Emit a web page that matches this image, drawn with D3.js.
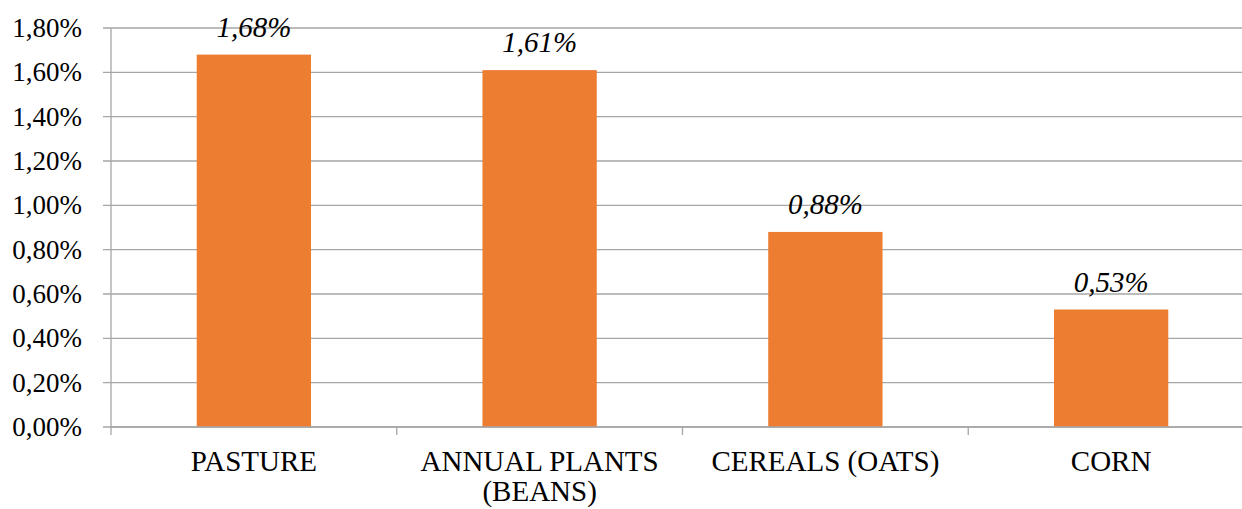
<!DOCTYPE html>
<html>
<head>
<meta charset="utf-8">
<script src="https://cdn.jsdelivr.net/npm/d3@7"></script>
<style>
html,body{margin:0;padding:0;background:#fff;overflow:hidden;}
svg{display:block;}
</style>
</head>
<body>
<svg id="chart" width="1242" height="509" font-family="'Liberation Serif', 'Times New Roman', Times, Tinos, 'Noto Serif', 'Nimbus Roman', 'FreeSerif', 'DejaVu Serif', serif"></svg>
<script>
const categories = [["PASTURE"], ["ANNUAL PLANTS", "(BEANS)"], ["CEREALS (OATS)"], ["CORN"]];
const values = [1.68, 1.61, 0.88, 0.53];
const yTicks = [0, 0.2, 0.4, 0.6, 0.8, 1.0, 1.2, 1.4, 1.6, 1.8];

(function () {
const fmt = v => v.toFixed(2).replace('.', ',') + '%';
const svg = d3.select('#chart');
const pLeft = 111, pRight = 1254, pTop = 28, pBottom = 427;
const keys = categories.map(c => c.join(' '));

const x = d3.scaleBand().domain(keys).range([pLeft, pRight]).padding(0);
const y = d3.scaleLinear().domain([0, 1.8]).range([pBottom, pTop]);
const gridColor = '#a6a6a6';

// gridlines
svg.append('g').selectAll('line').data(yTicks).join('line')
  .attr('x1', pLeft - 8).attr('x2', pRight)
  .attr('y1', d => y(d)).attr('y2', d => y(d))
  .attr('stroke', gridColor).attr('stroke-width', 1.3);

// y axis line
svg.append('line').attr('x1', pLeft).attr('x2', pLeft).attr('y1', y(1.8)).attr('y2', y(0))
  .attr('stroke', gridColor).attr('stroke-width', 1.3);

// y tick labels
svg.append('g').selectAll('text').data(yTicks).join('text')
  .attr('x', pLeft - 29).attr('y', d => y(d) + 9)
  .attr('text-anchor', 'end')
  .attr('font-size', 27).attr('fill', '#000').text(fmt);

// bars
const bw = x.bandwidth();
svg.append('g').selectAll('rect').data(values).join('rect')
  .attr('x', (d, i) => x(keys[i]) + bw * 0.3)
  .attr('width', bw * 0.4)
  .attr('y', d => y(d))
  .attr('height', d => y(0) - y(d))
  .attr('fill', '#ED7D31');

// x axis line and ticks
svg.append('line').attr('x1', pLeft).attr('x2', pRight).attr('y1', y(0)).attr('y2', y(0))
  .attr('stroke', gridColor).attr('stroke-width', 1.3);
const bounds = keys.map(k => x(k)).concat([x(keys[keys.length - 1]) + bw]);
svg.append('g').selectAll('line').data(bounds).join('line')
  .attr('x1', d => d).attr('x2', d => d).attr('y1', y(0)).attr('y2', y(0) + 8)
  .attr('stroke', gridColor).attr('stroke-width', 1.3);

// data labels
svg.append('g').selectAll('text').data(values).join('text')
  .attr('x', (d, i) => x(keys[i]) + bw / 2)
  .attr('y', d => y(d) - 18)
  .attr('text-anchor', 'middle').attr('font-style', 'italic')
  .attr('font-size', 29).attr('fill', '#000').text(fmt);

// category labels
const cl = svg.append('g').selectAll('text').data(categories).join('text')
  .attr('x', (d, i) => x(keys[i]) + bw / 2)
  .attr('y', 471)
  .attr('text-anchor', 'middle').attr('font-size', 29).attr('fill', '#000');
cl.selectAll('tspan').data(d => d).join('tspan')
  .attr('x', function() { return this.parentNode.getAttribute('x'); })
  .attr('dy', (d, i) => i === 0 ? 0 : 30)
  .text(d => d);
})();
</script>
</body>
</html>
